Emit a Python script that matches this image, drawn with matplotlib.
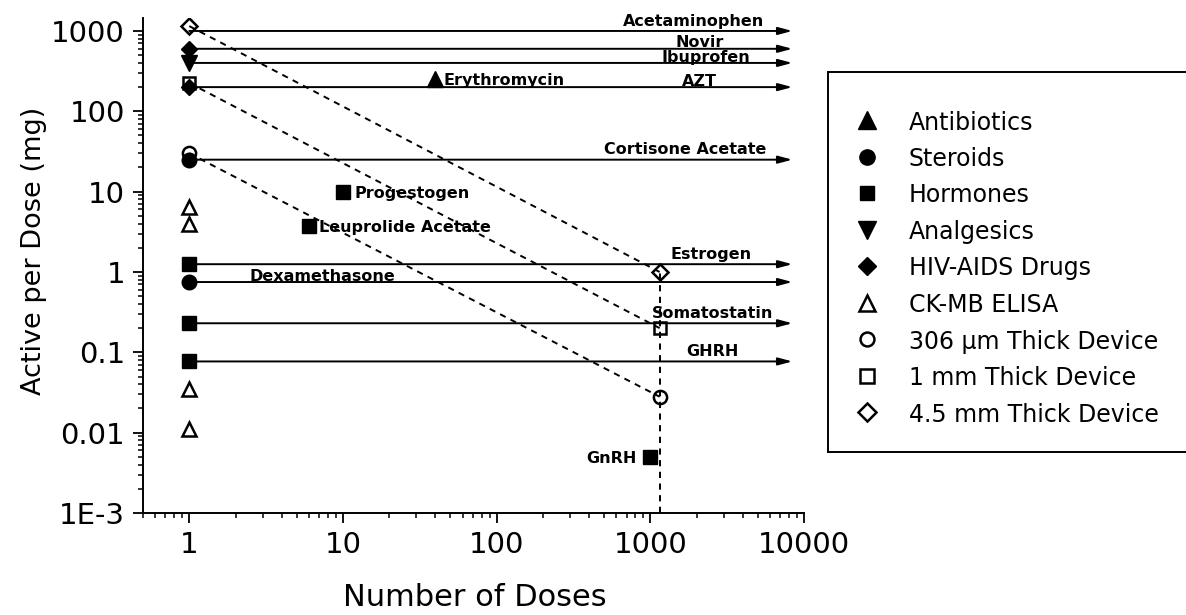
import matplotlib.pyplot as plt
from matplotlib.ticker import LogLocator, NullFormatter

# drugs that stay at the same per-dose amount whatever the number of doses
drug_names = ['Acetaminophen', 'Novir', 'Ibuprofen', 'AZT', 'Cortisone Acetate',
              'Estrogen', 'Dexamethasone', 'Somatostatin', 'GHRH']
drug_mg = [1000, 600, 400, 200, 25, 1.25, 0.75, 0.23, 0.077]

# active per dose (mg) vs number of doses, by drug class
antibiotic_n = [40]
antibiotic_mg = [250]
steroid_n = [1, 1]
steroid_mg = [25, 0.75]
hormone_n = [1, 1, 1, 10, 6, 1000]
hormone_mg = [1.25, 0.23, 0.077, 10, 3.75, 0.005]
analgesic_n = [1]
analgesic_mg = [400]
hiv_n = [1, 1]
hiv_mg = [600, 200]
ckmb_n = [1, 1, 1, 1]
ckmb_mg = [6.5, 4, 0.035, 0.011]

# device capacity: one dose of everything, or split over all reservoirs
device_n = [1, 1150]
device_306um_mg = [30, 0.028]
device_1mm_mg = [225, 0.2]
device_45mm_mg = [1150, 1.0]

point_labels = ['Erythromycin', 'Progestogen', 'Leuprolide Acetate', 'GnRH']
point_n = [40, 10, 6, 1000]
point_mg = [250, 10, 3.75, 0.005]

x_ticks = [1, 10, 100, 1000, 10000]
x_tick_labels = ['1', '10', '100', '1000', '10000']
y_ticks = [1e-3, 1e-2, 1e-1, 1, 10, 100, 1000]
y_tick_labels = ['1E-3', '0.01', '0.1', '1', '10', '100', '1000']

W, H = 1186, 615
ARROW_END = 8400
LABEL_FONT = dict(fontsize=11.5, fontweight='bold')

# label centre (in doses) and baseline lift (points) for each arrow label
label_pos = {
    'Acetaminophen': (1920, 3.6),
    'Novir': (2080, 1.4),
    'Ibuprofen': (2300, 0.7),
    'AZT': (2080, 0.5),
    'Cortisone Acetate': (1690, 4.3),
    'Estrogen': (2500, 3.6),
    'Dexamethasone': (7.4, 0.7),
    'Somatostatin': (2560, 3.6),
    'GHRH': (2550, 3.6),
}
# (dx, ha) in points for the single-point labels
point_label_pos = {
    'Erythromycin': (6, 'left'),
    'Progestogen': (8, 'left'),
    'Leuprolide Acetate': (7, 'left'),
    'GnRH': (-10, 'right'),
}

fig = plt.figure(figsize=(W / 100, H / 100), dpi=100)
ax = fig.add_axes([143 / W, 1 - 513 / H, 661 / W, 495 / H])
ax.set_xscale('log')
ax.set_yscale('log')
ax.set_xlim(0.5, 10000)
ax.set_ylim(1e-3, 1450)

for name, mg in zip(drug_names, drug_mg):
    ax.annotate('', xy=(ARROW_END, mg), xytext=(1, mg), zorder=1.5,
                arrowprops=dict(arrowstyle='-|>,head_length=0.6,head_width=0.16',
                                color='black', lw=1.4, shrinkA=0, shrinkB=0,
                                mutation_scale=14))
    x, lift = label_pos[name]
    ax.annotate(name, xy=(x, mg), xytext=(0, lift), textcoords='offset points',
                ha='center', va='baseline', zorder=4, **LABEL_FONT)

dash = (0, (3.2, 2.8))
for mg in (device_306um_mg, device_1mm_mg, device_45mm_mg):
    ax.plot(device_n, mg, color='black', lw=1.4, ls=dash, zorder=1.5)
ax.vlines(device_n[1], 1e-3, device_45mm_mg[1], color='black', lw=1.4,
          linestyles=dash, zorder=1.5)

filled = dict(color='black', ls='none', zorder=3)
hollow = dict(color='black', ls='none', mfc='none', mew=1.8, zorder=3)
series = [
    (antibiotic_n, antibiotic_mg, '^', 12, filled, 'Antibiotics'),
    (steroid_n, steroid_mg, 'o', 10.5, filled, 'Steroids'),
    (hormone_n, hormone_mg, 's', 10, filled, 'Hormones'),
    (analgesic_n, analgesic_mg, 'v', 12, filled, 'Analgesics'),
    (hiv_n, hiv_mg, 'D', 8.5, filled, 'HIV-AIDS Drugs'),
    (ckmb_n, ckmb_mg, '^', 10.5, hollow, 'CK-MB ELISA'),
    (device_n, device_306um_mg, 'o', 9.5, hollow, '306 \u00b5m Thick Device'),
    (device_n, device_1mm_mg, 's', 9, hollow, '1 mm Thick Device'),
    (device_n, device_45mm_mg, 'D', 8.5, hollow, '4.5 mm Thick Device'),
]
for n, mg, marker, ms, style, _ in series:
    ax.plot(n, mg, marker=marker, ms=ms, **style)

for name, n, mg in zip(point_labels, point_n, point_mg):
    dx, ha = point_label_pos[name]
    ax.annotate(name, xy=(n, mg), xytext=(dx, 0), textcoords='offset points',
                ha=ha, va='center_baseline', zorder=4, **LABEL_FONT)

for side in ('top', 'right'):
    ax.spines[side].set_visible(False)
for side in ('left', 'bottom'):
    ax.spines[side].set_linewidth(1.4)

ax.set_xticks(x_ticks, x_tick_labels)
ax.set_yticks(y_ticks, y_tick_labels)
ax.xaxis.set_minor_locator(LogLocator(base=10, subs=range(2, 10), numticks=20))
ax.yaxis.set_minor_locator(LogLocator(base=10, subs=range(2, 10), numticks=20))
ax.xaxis.set_minor_formatter(NullFormatter())
ax.yaxis.set_minor_formatter(NullFormatter())
ax.tick_params(which='major', direction='out', length=7, width=1.3, labelsize=21)
ax.tick_params(which='minor', direction='out', length=3.5, width=1.1)
ax.tick_params(axis='x', which='major', pad=6)
ax.tick_params(axis='y', which='major', pad=6)

fig.text(475 / W, 1 - 606 / H, 'Number of Doses', fontsize=22,
         ha='center', va='baseline')
fig.text(41 / W, 1 - 251 / H, 'Active per Dose (mg)', fontsize=19.5,
         rotation=90, rotation_mode='anchor', ha='center', va='baseline')

# key box, open on the right where it runs off the page
lax = fig.add_axes([828 / W, 1 - 452 / H, 400 / W, 380 / H])
lax.set_xlim(0, 400)
lax.set_ylim(380, 0)
lax.set_xticks([])
lax.set_yticks([])
for side in ('top', 'left', 'bottom'):
    lax.spines[side].set_linewidth(1.4)
lax.spines['right'].set_visible(False)
for i, (_, _, marker, ms, style, label) in enumerate(series):
    y = 48 + 36.5 * i
    lax.plot([39], [y], marker=marker, ms=ms + 0.5, clip_on=False, **style)
    lax.text(81, y, label, fontsize=17, ha='left', va='center_baseline')

fig.savefig('out.png', dpi=100)
